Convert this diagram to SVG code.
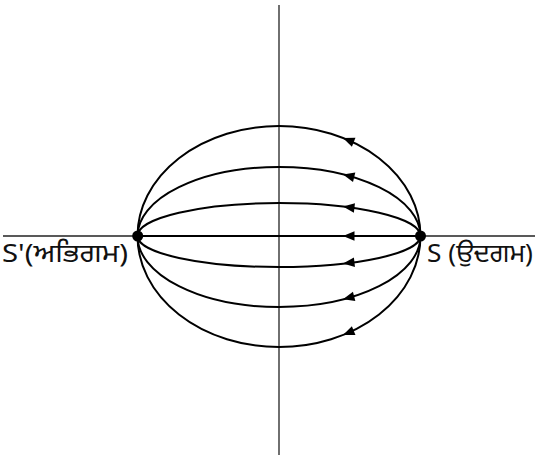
<svg xmlns="http://www.w3.org/2000/svg" width="537" height="463" viewBox="0 0 537 463">
  <style>
    .axis { stroke: #222; stroke-width: 1.3; fill: none; }
    .field { stroke: #000; stroke-width: 2; fill: none; }
    .lbl { font-family: "Noto Sans", "Noto Sans Gurmukhi", "DejaVu Sans", sans-serif; font-size: 25.5px; fill: #111; }
  </style>
  <defs>
    <path id="ah" d="M0,0 L11.5,-4.8 L11.5,4.8 Z" fill="#000"/>
  </defs>
  <g id="axes">
    <line class="axis" x1="3" y1="236" x2="535" y2="236"/>
    <line class="axis" x1="279" y1="5" x2="279" y2="455"/>
  </g>
  <g id="connectors">
    <path class="field" d="M420.5,236 A141.5,110 0 0 0 137.5,236"/>
    <path class="field" d="M420.5,236 A141.5,69 0 0 0 137.5,236"/>
    <path class="field" d="M420.5,236 A141.5,33 0 0 0 137.5,236"/>
    <path class="field" d="M420.5,236 L137.5,236"/>
    <path class="field" d="M420.5,236 A141.5,31 0 0 1 137.5,236"/>
    <path class="field" d="M420.5,236 A141.5,71 0 0 1 137.5,236"/>
    <path class="field" d="M420.5,236 A141.5,111 0 0 1 137.5,236"/>
    <use href="#ah" transform="translate(343,138) rotate(21.7)"/>
    <use href="#ah" transform="translate(343,174.5) rotate(14)"/>
    <use href="#ah" transform="translate(343,206.6) rotate(6.8)"/>
    <use href="#ah" transform="translate(343,236)"/>
    <use href="#ah" transform="translate(343,263.6) rotate(-6.4)"/>
    <use href="#ah" transform="translate(343,299.3) rotate(-14.4)"/>
    <use href="#ah" transform="translate(343,334.9) rotate(-21.9)"/>
  </g>
  <g id="sink">
    <circle cx="137.7" cy="236" r="5.5" fill="#000"/>
    <text class="lbl" x="2" y="262" textLength="126" lengthAdjust="spacingAndGlyphs">S'(ਅਭਿਗਮ)</text>
  </g>
  <g id="source">
    <circle cx="420.5" cy="236" r="5.5" fill="#000"/>
    <text class="lbl" x="427" y="262" textLength="106" lengthAdjust="spacingAndGlyphs">S (ਉਦਗਮ)</text>
  </g>
</svg>
